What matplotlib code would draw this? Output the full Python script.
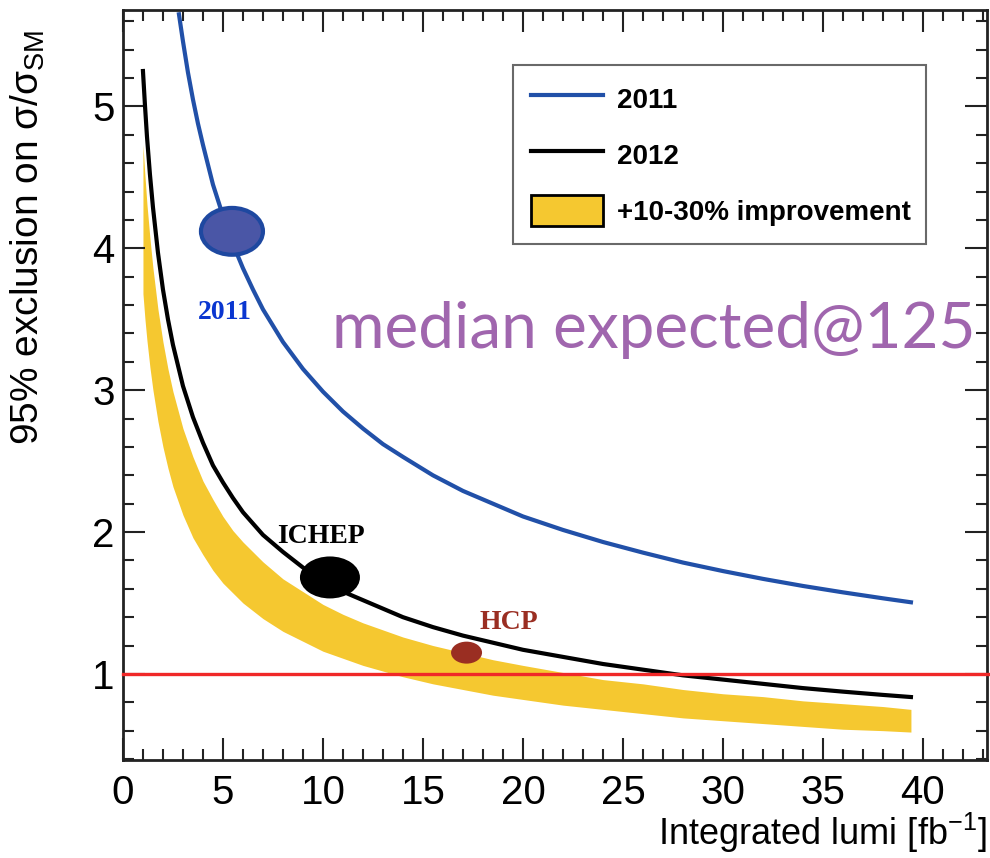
import matplotlib
matplotlib.use("Agg")
import matplotlib.pyplot as plt
from matplotlib.patches import Ellipse, Patch
from matplotlib.lines import Line2D
from matplotlib.ticker import MultipleLocator

plt.rcParams['font.family'] = ['Liberation Sans', 'DejaVu Sans']
plt.rcParams['mathtext.fontset'] = 'custom'
plt.rcParams['mathtext.rm'] = 'Liberation Sans'
plt.rcParams['mathtext.it'] = 'Liberation Sans'
plt.rcParams['mathtext.bf'] = 'Liberation Sans:bold'

# expected 95% CL limit vs integrated luminosity, 2011 analysis
lumi_2011 = [2.8, 3.0, 3.25, 3.5, 3.75, 4.0, 4.5, 5.0, 5.5, 6.0, 6.5, 7.0, 8.0, 9.0, 10.0, 11.0, 12.0,
             13.0, 14.0, 15.5, 17.0, 18.5, 20.0, 22.0, 24.0, 26.0, 28.0, 30.0, 32.0, 34.0, 36.0, 38.0, 39.4]
limit_2011 = [5.65, 5.46, 5.24, 5.05, 4.88, 4.73, 4.45, 4.23, 4.03, 3.86, 3.71, 3.57, 3.34, 3.15, 2.99, 2.85, 2.73,
              2.62, 2.53, 2.40, 2.29, 2.20, 2.11, 2.015, 1.93, 1.855, 1.785, 1.725, 1.67, 1.62, 1.575, 1.533, 1.505]

# 2012 analysis, and the band for a further 10-30% improvement
lumi_2012 = [1.0, 1.1, 1.2, 1.35, 1.5, 1.75, 2.0, 2.25, 2.5, 3.0, 3.5, 4.0, 4.5, 5.0, 5.5, 6.0, 7.0, 8.0, 9.0,
             10.0, 11.0, 12.0, 13.0, 14.0, 15.5, 17.0, 18.5, 20.0, 22.0, 24.0, 26.0, 28.0, 30.0, 32.0, 34.0, 36.0, 38.0, 39.4]
limit_2012 = [5.25, 5.01, 4.79, 4.52, 4.29, 3.97, 3.71, 3.50, 3.32, 3.03, 2.81, 2.63, 2.47, 2.35, 2.24, 2.14, 1.98, 1.86, 1.75,
              1.66, 1.58, 1.52, 1.46, 1.40, 1.33, 1.27, 1.22, 1.17, 1.12, 1.07, 1.03, 0.99, 0.96, 0.93, 0.90, 0.875, 0.852, 0.837]
band_hi = [4.73, 4.51, 4.31, 4.07, 3.86, 3.57, 3.34, 3.15, 2.99, 2.73, 2.53, 2.36, 2.23, 2.11, 2.01, 1.93, 1.79, 1.67, 1.58,
           1.49, 1.42, 1.36, 1.31, 1.26, 1.20, 1.15, 1.10, 1.06, 1.01, 0.96, 0.93, 0.89, 0.86, 0.84, 0.81, 0.79, 0.77, 0.75]
band_lo = [3.68, 3.50, 3.35, 3.16, 3.00, 2.78, 2.60, 2.45, 2.32, 2.12, 1.96, 1.84, 1.73, 1.64, 1.57, 1.50, 1.39, 1.30, 1.23,
           1.16, 1.11, 1.06, 1.02, 0.98, 0.93, 0.89, 0.85, 0.82, 0.78, 0.75, 0.72, 0.69, 0.67, 0.65, 0.63, 0.61, 0.60, 0.59]

# conference milestones
milestone_names = ['2011', 'ICHEP', 'HCP']
milestone_lumi = [5.45, 10.35, 17.18]
milestone_limit = [4.12, 1.68, 1.15]

fig = plt.figure(figsize=(9.9, 8.58), dpi=100)
ax = fig.add_axes([0.1242, 0.1142, 0.8727, 0.8741])

ax.fill_between(lumi_2012, band_lo, band_hi, color='#f5c830', lw=0, zorder=1)
ax.plot(lumi_2011, limit_2011, color='#2150a8', lw=3, zorder=2)
ax.plot(lumi_2012, limit_2012, color='black', lw=3, zorder=2)
ax.axhline(1.0, xmin=0, xmax=1.004, color='#f02828', lw=2.4, clip_on=False, zorder=3)

# milestone blobs
ax.add_patch(Ellipse((milestone_lumi[0], milestone_limit[0]), 3.1, 0.33,
                     facecolor='#4a56a6', edgecolor='#1e48a0', lw=3, zorder=4))
ax.add_patch(Ellipse((milestone_lumi[1], milestone_limit[1]), 3.0, 0.296,
                     facecolor='black', edgecolor='black', lw=0, zorder=4))
ax.add_patch(Ellipse((milestone_lumi[2], milestone_limit[2]), 1.55, 0.155,
                     facecolor='#9a2e22', edgecolor='#9a2e22', lw=0, zorder=4))

serif = dict(family='Liberation Serif', fontweight='bold', fontsize=20, ha='center', va='center')
ax.text(5.1, 3.55, milestone_names[0], color='#0a36d0', **serif)
ax.text(9.9, 1.97, milestone_names[1], color='black', **serif)
ax.text(19.3, 1.36, milestone_names[2], color='#9a2e22', **serif)

ax.text(10.45, 3.30, 'median expected@125', color='#a066ae', fontsize=46,
        family='Lato', ha='left', va='baseline')

ax.set_xlim(0, 43.2)
ax.set_ylim(0.393, 5.68)
ax.xaxis.set_major_locator(MultipleLocator(5))
ax.xaxis.set_minor_locator(MultipleLocator(1))
ax.yaxis.set_major_locator(MultipleLocator(1))
ax.yaxis.set_minor_locator(MultipleLocator(0.2))
ax.tick_params(which='both', direction='in', top=True, right=True, width=1.5, colors='#222222')
ax.tick_params(which='major', length=16, labelsize=29, labelcolor='black')
ax.tick_params(which='minor', length=8)
ax.tick_params(axis='x', which='major', pad=10)
ax.tick_params(axis='y', which='major', pad=6)
for s in ax.spines.values():
    s.set_linewidth(2)
    s.set_color('#222222')

ax.set_xlabel('Integrated lumi [fb$^{-1}$]', fontsize=26, loc='right')
ax.xaxis.set_label_coords(1.0, -0.068)
ax.set_ylabel(r'95% exclusion on σ/σ$_{\rm SM}$', fontsize=28, loc='top')
ax.yaxis.set_label_coords(-0.088, 0.974)

handles = [Line2D([], [], color='#2150a8', lw=3),
           Line2D([], [], color='black', lw=3),
           Patch(facecolor='#f5c830', edgecolor='black', lw=2)]
leg = ax.legend(handles, ['2011', '2012', '+10-30% improvement'],
                loc='upper left', bbox_to_anchor=(0.451, 0.693, 0.478, 0.234), mode='expand',
                borderaxespad=0, prop={'weight': 'bold', 'size': 20}, frameon=True, fancybox=False,
                edgecolor='#444444', handlelength=2.6, handleheight=1.35,
                handletextpad=0.5, labelspacing=0.9, borderpad=0.65)
leg.get_frame().set_linewidth(1.5)

fig.savefig('out.png', dpi=100)
